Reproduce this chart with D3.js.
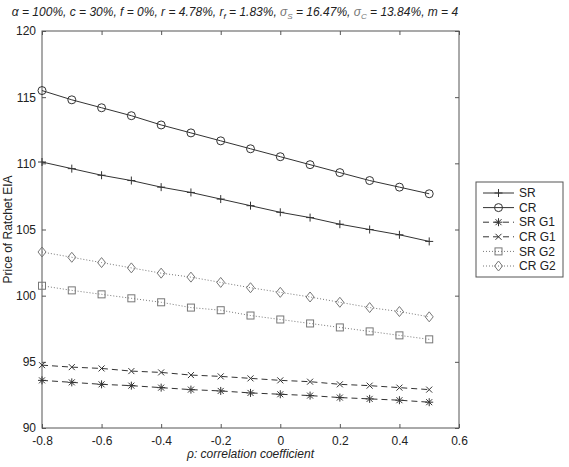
<!DOCTYPE html>
<html>
<head>
<meta charset="utf-8">
<script src="https://cdn.jsdelivr.net/npm/d3@7"></script>
<style>
  body { margin: 0; background: #fff; }
  svg { font-family: "Liberation Sans", Arial, sans-serif; }
</style>
</head>
<body>
<div id="chart"></div>
<script>
// correlation coefficient values
var rho = [-0.8, -0.7, -0.6, -0.5, -0.4, -0.3, -0.2, -0.1, 0, 0.1, 0.2, 0.3, 0.4, 0.5];

// prices per series
var sr   = [110.1, 109.6, 109.1, 108.7, 108.2, 107.8, 107.3, 106.8, 106.3, 105.9, 105.4, 105.0, 104.6, 104.1];
var cr   = [115.5, 114.8, 114.2, 113.6, 112.9, 112.3, 111.7, 111.1, 110.5, 109.9, 109.3, 108.7, 108.2, 107.7];
var srG1 = [93.6, 93.45, 93.3, 93.2, 93.05, 92.9, 92.8, 92.65, 92.55, 92.45, 92.3, 92.2, 92.1, 91.95];
var crG1 = [94.75, 94.6, 94.5, 94.3, 94.2, 94.0, 93.9, 93.75, 93.6, 93.5, 93.3, 93.2, 93.05, 92.9];
var srG2 = [100.75, 100.4, 100.1, 99.8, 99.5, 99.1, 98.9, 98.5, 98.2, 97.9, 97.6, 97.3, 97.0, 96.7];
var crG2 = [103.3, 102.9, 102.5, 102.1, 101.7, 101.4, 101.0, 100.6, 100.25, 99.9, 99.5, 99.1, 98.8, 98.4];

var seriesNames = ["SR", "CR", "SR G1", "CR G1", "SR G2", "CR G2"];
var xTicks = [-0.8, -0.6, -0.4, -0.2, 0, 0.2, 0.4, 0.6];
var yTicks = [90, 95, 100, 105, 110, 115, 120];

var styles = {
  "SR":    {values: sr,   marker: "plus",    dash: null,  color: "#333"},
  "CR":    {values: cr,   marker: "circle",  dash: null,  color: "#333"},
  "SR G1": {values: srG1, marker: "star",    dash: "6,4", color: "#333"},
  "CR G1": {values: crG1, marker: "cross",   dash: "6,4", color: "#333"},
  "SR G2": {values: srG2, marker: "square",  dash: "1,2", color: "#777"},
  "CR G2": {values: crG2, marker: "diamond", dash: "1,2", color: "#777"}
};

var W = 569, H = 467;
var margin = {top: 31, left: 42, right: 110, bottom: 39};
var width = W - margin.left - margin.right,
    height = H - margin.top - margin.bottom;

var svg = d3.select("#chart").append("svg")
    .attr("width", W).attr("height", H);

var g = svg.append("g")
    .attr("transform", "translate(" + margin.left + "," + margin.top + ")");

var x = d3.scaleLinear().domain([-0.8, 0.6]).range([0, width]);
var y = d3.scaleLinear().domain([90, 120]).range([height, 0]);

// frame
g.append("rect").attr("width", width).attr("height", height)
  .attr("fill", "none").attr("stroke", "#555").attr("stroke-width", 1);

var fmt = function(d) { return d === 0 ? "0" : String(d); };

// inward ticks on all four sides
g.append("g").attr("transform", "translate(0," + height + ")")
  .call(d3.axisBottom(x).tickValues(xTicks).tickFormat(fmt).tickSizeInner(-4).tickSizeOuter(0).tickPadding(8))
  .call(function(a) { a.select(".domain").remove(); });
g.append("g")
  .call(d3.axisTop(x).tickValues(xTicks).tickFormat("").tickSizeInner(-4).tickSizeOuter(0))
  .call(function(a) { a.select(".domain").remove(); });
g.append("g")
  .call(d3.axisLeft(y).tickValues(yTicks).tickSizeInner(-4).tickSizeOuter(0).tickPadding(6))
  .call(function(a) { a.select(".domain").remove(); });
g.append("g").attr("transform", "translate(" + width + ",0)")
  .call(d3.axisRight(y).tickValues(yTicks).tickFormat("").tickSizeInner(-4).tickSizeOuter(0))
  .call(function(a) { a.select(".domain").remove(); });

g.selectAll(".tick line").attr("stroke", "#555");
g.selectAll(".tick text").attr("font-size", 12).attr("fill", "#222");

function drawMarker(sel, type, color) {
  if (type === "circle") {
    sel.append("circle").attr("r", 4).attr("fill", "none").attr("stroke", color);
  } else if (type === "square") {
    sel.append("rect").attr("x", -3.5).attr("y", -3.5).attr("width", 7).attr("height", 7)
      .attr("fill", "none").attr("stroke", color);
  } else if (type === "diamond") {
    sel.append("path").attr("d", "M0,-5L4,0L0,5L-4,0Z").attr("fill", "none").attr("stroke", color);
  } else if (type === "plus") {
    sel.append("path").attr("d", "M-4,0H4M0,-4V4").attr("stroke", color);
  } else if (type === "cross") {
    sel.append("path").attr("d", "M-3,-3L3,3M-3,3L3,-3").attr("stroke", color);
  } else if (type === "star") {
    sel.append("path").attr("d", "M-4,0H4M0,-4V4M-3,-3L3,3M-3,3L3,-3").attr("stroke", color);
  }
}

var line = d3.line()
  .x(function(d) { return x(d[0]); })
  .y(function(d) { return y(d[1]); });

seriesNames.forEach(function(name) {
  var s = styles[name];
  var pts = rho.map(function(r, i) { return [r, s.values[i]]; });
  g.append("path").datum(pts)
    .attr("d", line)
    .attr("fill", "none")
    .attr("stroke", s.color)
    .attr("stroke-width", 1)
    .attr("stroke-dasharray", s.dash);
  g.selectAll(null).data(pts).enter().append("g")
    .attr("transform", function(d) { return "translate(" + x(d[0]) + "," + y(d[1]) + ")"; })
    .each(function() { drawMarker(d3.select(this), s.marker, s.color); });
});

// axis labels
svg.append("text")
  .attr("x", margin.left + width / 2).attr("y", 458)
  .attr("text-anchor", "middle").attr("font-size", 12).attr("font-style", "italic")
  .attr("fill", "#222")
  .text("\u03c1: correlation coefficient");

svg.append("text")
  .attr("transform", "translate(12," + (margin.top + height / 2) + ") rotate(-90)")
  .attr("text-anchor", "middle").attr("font-size", 12).attr("fill", "#222")
  .text("Price of Ratchet EIA");

// title
var title = svg.append("text")
  .attr("x", 235).attr("y", 16)
  .attr("text-anchor", "middle").attr("font-size", 12).attr("font-style", "italic")
  .attr("fill", "#222");
title.append("tspan").text("\u03b1 = 100%, c = 30%, f = 0%, r = 4.78%, r");
title.append("tspan").attr("font-size", 8).attr("dy", 3).text("f");
title.append("tspan").attr("dy", -3).text(" = 1.83%, ");
title.append("tspan").attr("fill", "#777").text("\u03c3");
title.append("tspan").attr("font-size", 8).attr("dy", 3).attr("fill", "#777").text("S");
title.append("tspan").attr("dy", -3).text(" = 16.47%, ");
title.append("tspan").attr("fill", "#777").text("\u03c3");
title.append("tspan").attr("font-size", 8).attr("dy", 3).attr("fill", "#777").text("C");
title.append("tspan").attr("dy", -3).text(" = 13.84%, m = 4");

// legend
var legend = svg.append("g").attr("transform", "translate(476,182)");
legend.append("rect").attr("width", 87).attr("height", 95)
  .attr("fill", "#fff").attr("stroke", "#555");

var items = legend.selectAll(".item").data(seriesNames).enter().append("g")
  .attr("class", "item")
  .attr("transform", function(d, i) { return "translate(0," + (11 + i * 14.6) + ")"; });

items.append("line")
  .attr("x1", 7).attr("x2", 38)
  .attr("stroke", function(d) { return styles[d].color; })
  .attr("stroke-dasharray", function(d) { return styles[d].dash; });
items.append("g").attr("transform", "translate(22.5,0)")
  .each(function(d) { drawMarker(d3.select(this), styles[d].marker, styles[d].color); });
items.append("text")
  .attr("x", 43).attr("dy", "0.35em")
  .attr("font-size", 12).attr("fill", "#222")
  .text(function(d) { return d; });
</script>
</body>
</html>
